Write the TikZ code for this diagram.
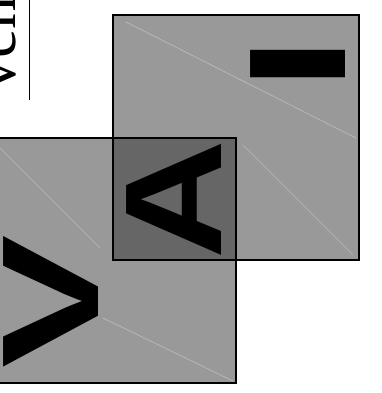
\documentclass[tikz,border=0pt]{standalone}
\usepackage{fontspec}
\usepackage{graphicx}
\setmainfont{Liberation Serif}
\newfontfamily\lsans{Liberation Sans}
\newfontfamily\lserif{Liberation Serif}
\begin{document}
\begin{tikzpicture}[x=1pt,y=-1pt,
  sq/.style={draw=black,line width=1.8pt},
  seam/.style={draw=black!27,line width=0.7pt},
  big/.style={inner sep=0pt,outer sep=0pt,rotate=90,font=\lsans\bfseries\fontsize{138}{138}\selectfont}]
\useasboundingbox (0,0) rectangle (381,393);
\clip (0,0) rectangle (381,393);
\fill[white] (0,0) rectangle (381,393);
% fills
\fill[black!40] (-10,138) rectangle (236,383);
\fill[black!40] (113,15) rectangle (359,260);
\fill[black!60] (113,138) rectangle (236,260);
% faint seams
\draw[seam] (126,22) -- (356,138);
\draw[seam] (243,145) -- (353,255);
\draw[seam] (0,148) -- (100,248);
\draw[seam] (103,318) -- (233,381);
% outlines
\draw[sq] (-10,138) rectangle (236,383);
\draw[sq] (113,15) rectangle (359,260);
% letters
\node[big] (lA) at (174,199.5) {\scalebox{1.2}[1]{A}};
\node[big] (lV) at (51,302) {\scalebox{1.45}[1]{V}};
\node[big] (lI) at (298,64.5) {\scalebox{1.38}[1]{I}};
% rotated caption
\node[rotate=90,anchor=base west,inner sep=0pt,font=\lserif\fontsize{66}{66}\selectfont] (cap) at (15.5,92) {ven};
\coordinate (r1) at (29.5,0);
\coordinate (r2) at (29.5,100);
\draw[line width=1.5pt] (r1) -- (r2);
\end{tikzpicture}
\end{document}
